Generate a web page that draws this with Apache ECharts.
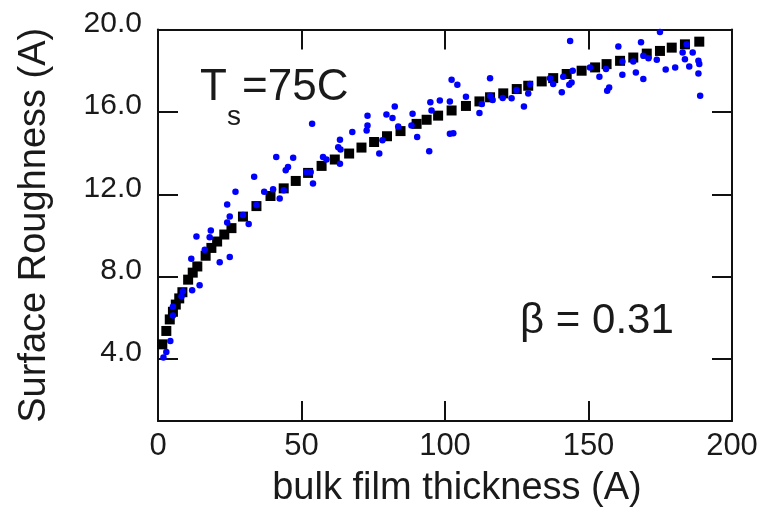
<!DOCTYPE html>
<html>
<head>
<meta charset="utf-8">
<script src="https://cdn.jsdelivr.net/npm/echarts@6/dist/echarts.min.js"></script>
<style>
  html, body { margin: 0; padding: 0; background: #ffffff; }
  #chart { width: 770px; height: 514px; }
</style>
</head>
<body>
<div id="chart"></div>
<script>
// Power-law fit of roughness versus thickness (black squares)
const fitPoints = [
  [1.5,4.72],[2.9,5.37],[4.1,5.93],[5.2,6.3],[6.2,6.65],[7.4,6.95],[8.5,7.25],[10.5,7.86],
  [12.1,8.2],[13.7,8.5],[16.6,9.02],[18.6,9.4],[20.6,9.71],[23.1,10.05],[25.6,10.36],
  [29.6,10.92],[34.3,11.43],[39.2,11.92],[43.8,12.29],[48,12.65],[52.3,13.04],[57,13.38],
  [61.6,13.69],[66.6,13.98],[70.9,14.27],[75.3,14.54],[79.8,14.82],[84.5,15.07],[90.1,15.42],
  [93.6,15.62],[97.6,15.82],[102.3,16.07],[107.3,16.29],[112,16.51],[115.7,16.71],[120.3,16.9],
  [125,17.11],[129,17.27],[133.7,17.48],[137.7,17.64],[142.4,17.84],[147.6,18.0],[152.3,18.16],
  [156.3,18.32],[161,18.48],[165.6,18.64],[170.3,18.83],[174.9,18.96],[179,19.12],[183.6,19.28],
  [188.6,19.41]
];

// Measured surface roughness (blue dots)
const measured = [
  [1.9,4.08],[2.9,4.35],[4.3,4.88],[5.2,6.12],[5.2,6.54],[8.2,7.05],[8.7,7.3],[11.9,7.34],
  [14.5,7.59],[11.6,8.87],[16.3,9.31],[21.5,8.71],[25,8.96],[13.4,9.95],[18,9.92],[18.4,10.24],
  [24.1,10.63],[31.6,10.56],[25,10.92],[29.6,11.0],[24.1,11.51],[34.3,11.48],[27,12.12],
  [37,12.12],[40.1,12.25],[43.8,12.2],[42.4,11.8],[33.5,12.85],[44.5,13.17],[45.3,13.33],
  [41.2,13.81],[47.1,13.78],[51.7,13.09],[53.2,13.09],[54,12.53],[57.5,13.81],[58.7,13.69],
  [63.4,13.49],[62.8,14.29],[63.6,14.18],[63.4,14.65],[67.7,15.02],[72.7,15.1],[73,15.34],
  [73,15.82],[53.7,15.42],[77.1,13.98],[78.2,14.62],[79.6,15.87],[81.7,15.71],[82.5,16.26],
  [83.7,15.29],[88.3,15.34],[88.7,15.91],[90.3,14.78],[94.5,14.09],[94.9,16.47],[95.3,16.07],
  [98.2,16.55],[101.7,16.51],[101.7,14.94],[102.9,14.97],[102.3,17.56],[104.3,17.32],
  [107.3,16.74],[112,15.95],[112.8,16.39],[115.7,17.64],[115.7,16.79],[116.6,16.58],
  [120.1,16.68],[123.2,16.66],[124.9,17.06],[127.5,16.26],[129,16.9],[129.6,17.36],
  [136.6,17.64],[137.7,17.36],[140.7,16.95],[141.2,17.71],[143.3,17.32],[144.1,17.43],
  [143.6,19.44],[144.5,18.0],[150.5,18.16],[153.8,17.71],[156.1,18.08],[156.5,17.03],
  [157.2,17.19],[160.4,19.17],[161.8,17.8],[161.8,18.45],[165.6,18.45],[166.5,17.91],
  [168.3,19.38],[169.1,18.72],[169.1,17.6],[170.9,18.61],[173.8,18.53],[174.9,19.88],
  [176.9,18.06],[180.2,18.16],[182.8,18.88],[183.6,18.56],[184.2,19.28],[185.1,18.21],
  [186.3,18.88],[188.3,18.48],[188.6,18.32],[188.3,17.87],[188.9,16.79]
];

const yTicks = [4, 8, 12, 16, 20];

const FONT = '"Liberation Sans", Arial, sans-serif';
const INK = '#1a1a1a';

const frameLine = { show: true, onZero: false, lineStyle: { color: '#111', width: 2 } };
const innerTick = { show: true, inside: true, length: 20, lineStyle: { color: '#111', width: 2 } };

const chart = echarts.init(document.getElementById('chart'), null, { renderer: 'canvas' });

chart.setOption({
  animation: false,
  backgroundColor: '#ffffff',
  grid: { left: 158, right: 38, top: 29.5, bottom: 93 },
  xAxis: [
    {
      type: 'value', position: 'bottom', min: 0, max: 200, interval: 50,
      axisLine: frameLine, axisTick: innerTick, splitLine: { show: false },
      axisLabel: { show: true, margin: 10, fontSize: 31, color: INK, fontFamily: FONT },
      name: 'bulk film thickness (A)', nameLocation: 'middle', nameGap: 49,
      nameTextStyle: { fontSize: 38, color: INK, fontFamily: FONT, padding: [0, 0, 0, 24] }
    },
    {
      type: 'value', position: 'top', min: 0, max: 200, interval: 50,
      axisLine: frameLine, axisTick: innerTick, splitLine: { show: false },
      axisLabel: { show: false }
    }
  ],
  yAxis: [
    {
      type: 'value', position: 'left', min: 1, max: 20,
      axisLine: frameLine,
      axisTick: Object.assign({ customValues: yTicks }, innerTick),
      splitLine: { show: false },
      axisLabel: {
        show: true, customValues: yTicks, margin: 16, fontSize: 30, color: INK, fontFamily: FONT,
        verticalAlign: 'bottom', lineHeight: 12,
        formatter: v => v.toFixed(1)
      },
      name: 'Surface Roughness (A)', nameLocation: 'middle', nameGap: 104, nameRotate: 90,
      nameTextStyle: { fontSize: 38, color: INK, fontFamily: FONT }
    },
    {
      type: 'value', position: 'right', min: 1, max: 20,
      axisLine: frameLine,
      axisTick: Object.assign({ customValues: yTicks }, innerTick),
      splitLine: { show: false },
      axisLabel: { show: false }
    }
  ],
  series: [
    {
      name: 'fit', type: 'scatter', data: fitPoints,
      symbol: 'rect', symbolSize: 10,
      itemStyle: { color: '#000000', opacity: 1 }, z: 2
    },
    {
      name: 'measured', type: 'scatter', data: measured,
      symbol: 'circle', symbolSize: 6.5,
      itemStyle: { color: '#0000ff', opacity: 1 }, z: 3
    }
  ],
  graphic: [
    { type: 'text', left: 200, top: 66, style: { text: 'T', font: '44px ' + FONT, fill: INK } },
    { type: 'text', left: 227, top: 103, style: { text: 's', font: '28px ' + FONT, fill: INK } },
    { type: 'text', left: 242, top: 66, style: { text: '=75C', font: '44px ' + FONT, fill: INK } },
    { type: 'text', left: 520, top: 300, style: { text: 'β = 0.31', font: '42px ' + FONT, fill: INK } }
  ]
});
</script>
</body>
</html>
